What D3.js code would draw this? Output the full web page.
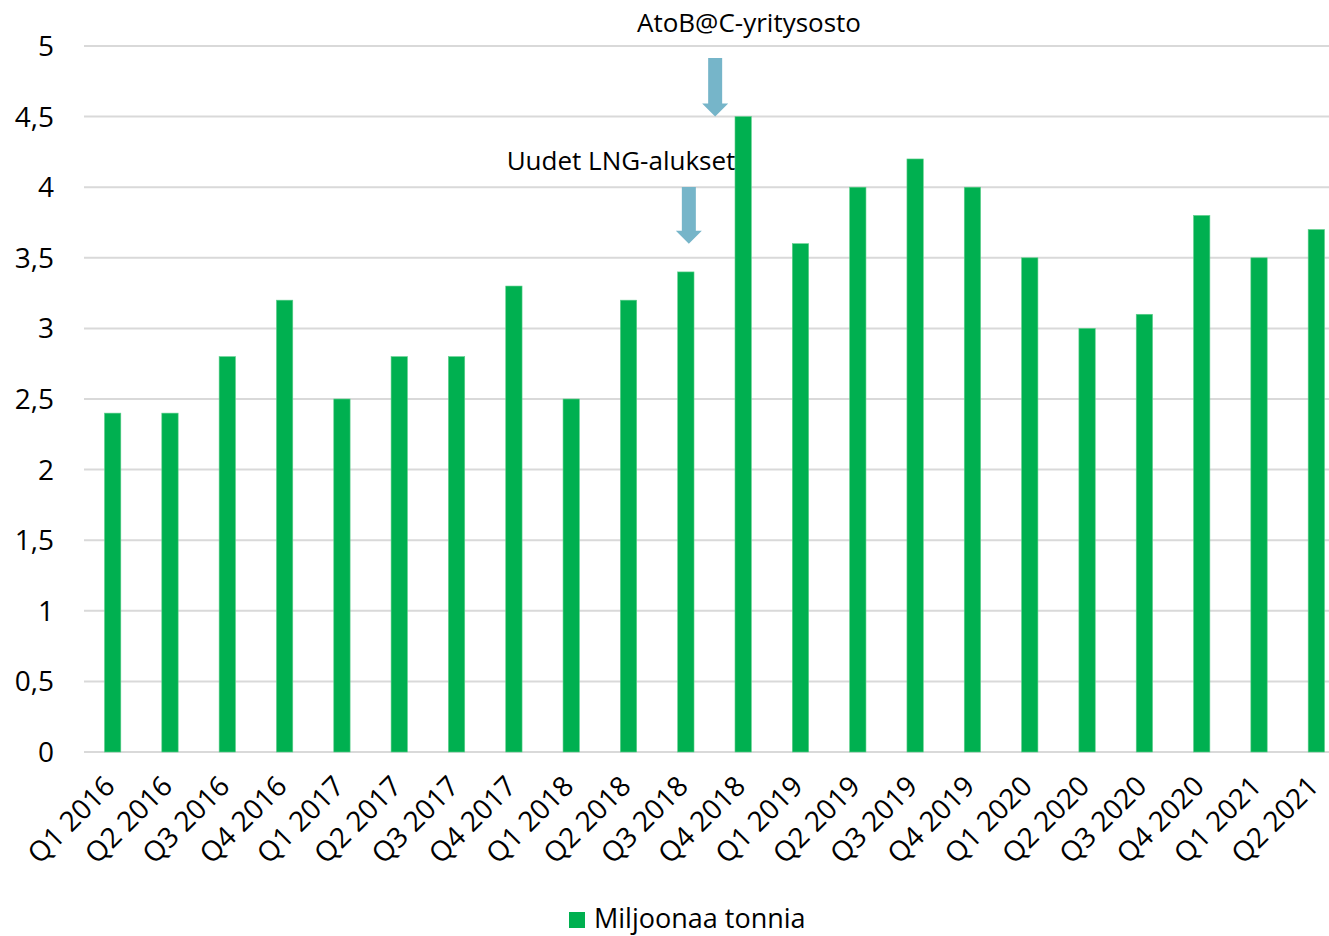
<!DOCTYPE html>
<html>
<head>
<meta charset="utf-8">
<script src="https://cdn.jsdelivr.net/npm/d3@7"></script>
<style>
  body { margin: 0; background: #fff; }
  text { font-family: "Open Sans", sans-serif; fill: #000; }
</style>
</head>
<body>
<svg id="chart" width="1329" height="936"></svg>
<script>
let categories = ['Q1 2016', 'Q2 2016', 'Q3 2016', 'Q4 2016',
                  'Q1 2017', 'Q2 2017', 'Q3 2017', 'Q4 2017',
                  'Q1 2018', 'Q2 2018', 'Q3 2018', 'Q4 2018',
                  'Q1 2019', 'Q2 2019', 'Q3 2019', 'Q4 2019',
                  'Q1 2020', 'Q2 2020', 'Q3 2020', 'Q4 2020',
                  'Q1 2021', 'Q2 2021'];
let values = [2.4, 2.4, 2.8, 3.2,
              2.5, 2.8, 2.8, 3.3,
              2.5, 3.2, 3.4, 4.5,
              3.6, 4.0, 4.2, 4.0,
              3.5, 3.0, 3.1, 3.8,
              3.5, 3.7];
let yTicks = [0, 0.5, 1, 1.5, 2, 2.5, 3, 3.5, 4, 4.5, 5];
let seriesName = 'Miljoonaa tonnia';
let noteLabels = ['AtoB@C-yritysosto', 'Uudet LNG-alukset'];
let noteCategories = ['Q4 2018', 'Q3 2018'];
let noteValues = [4.5, 3.6];

let green = '#00b050', arrowColor = '#76b5c9';

let svg = d3.select('#chart');

let x = d3.scaleBand()
          .domain(categories)
          .range([84, 1345])
          .paddingInner(0.715)
          .paddingOuter(0.3575);

let y = d3.scaleLinear()
          .domain([0, 5])
          .range([752, 46]);

// gridlines
svg.append('g')
    .selectAll('line')
    .data(yTicks)
  .enter().append('line')
    .attr('x1', 84)
    .attr('x2', 1345)
    .attr('y1', d => y(d))
    .attr('y2', d => y(d))
    .attr('stroke', '#d9d9d9')
    .attr('stroke-width', 2);

// y labels
let fmt = d => String(d).replace('.', ',');
svg.append('g')
    .selectAll('text')
    .data(yTicks)
  .enter().append('text')
    .attr('x', 54)
    .attr('y', d => y(d))
    .attr('dy', '0.36em')
    .attr('text-anchor', 'end')
    .attr('font-size', '28px')
    .text(fmt);

// bars
svg.append('g')
    .selectAll('rect')
    .data(values)
  .enter().append('rect')
    .attr('x', (d, i) => x(categories[i]))
    .attr('y', d => y(d))
    .attr('width', x.bandwidth())
    .attr('height', d => y(0) - y(d))
    .attr('fill', green)
    .attr('stroke', '#5fcf8c')
    .attr('stroke-width', 0.6);

// x labels
svg.append('g')
    .selectAll('text')
    .data(categories)
  .enter().append('text')
    .attr('transform', d => 'translate(' + (x(d) + x.bandwidth() / 2 + 4) + ',' + 788 + ') rotate(-45)')
    .attr('text-anchor', 'end')
    .attr('font-size', '28px')
    .text(d => d);

// annotations
let arrowX = [-28, 3];
noteLabels.forEach(function(label, i) {
  let cx = x(noteCategories[i]) + x.bandwidth() / 2 + arrowX[i];
  let tip = y(noteValues[i]);
  let top = i === 0 ? 58 : 187;
  let headH = 13;
  svg.append('path')
      .attr('d', 'M' + (cx - 7) + ',' + top + 'V' + (tip - headH) + 'H' + (cx - 13) +
                 'L' + cx + ',' + tip + 'L' + (cx + 13) + ',' + (tip - headH) +
                 'H' + (cx + 7) + 'V' + top + 'Z')
      .attr('fill', arrowColor);
  svg.append('text')
      .attr('x', i === 0 ? 749 : 621)
      .attr('y', i === 0 ? 32 : 170)
      .attr('text-anchor', 'middle')
      .attr('font-size', '26px')
      .text(label);
});

// legend
svg.append('rect')
    .attr('x', 569)
    .attr('y', 912)
    .attr('width', 16)
    .attr('height', 16)
    .attr('fill', green);
svg.append('text')
    .attr('x', 594)
    .attr('y', 928)
    .attr('font-size', '27px')
    .text(seriesName);
</script>
</body>
</html>
